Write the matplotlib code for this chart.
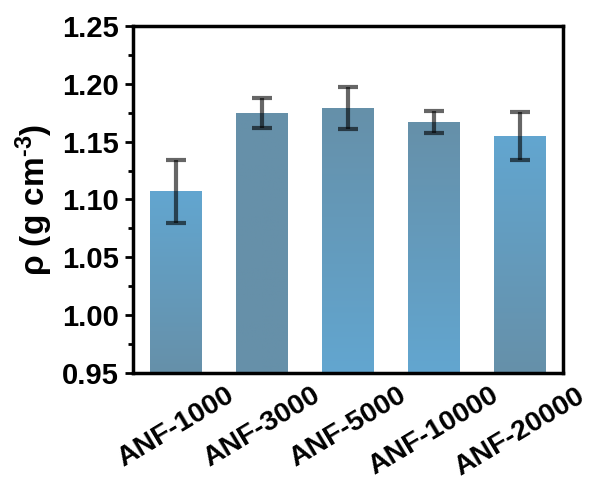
import numpy as np
import matplotlib
matplotlib.use("Agg")
import matplotlib.pyplot as plt
from matplotlib.colors import LinearSegmentedColormap
from matplotlib.ticker import MultipleLocator

samples = ["ANF-1000", "ANF-3000", "ANF-5000", "ANF-10000", "ANF-20000"]
density = [1.107, 1.175, 1.179, 1.167, 1.155]
density_err = [0.027, 0.013, 0.018, 0.0095, 0.0205]

plt.rcParams['font.family'] = ['Liberation Sans', 'DejaVu Sans']
plt.rcParams['font.weight'] = 'bold'
plt.rcParams['mathtext.fontset'] = 'custom'
plt.rcParams['mathtext.rm'] = 'Liberation Sans:bold'
plt.rcParams['mathtext.bf'] = 'Liberation Sans:bold'
plt.rcParams['mathtext.default'] = 'bf'

light = "#62a6d0"
dark = "#6690a9"
# top colour, bottom colour for each bar's gradient
shades = [(light, dark), (dark, dark), (dark, light), (dark, light), (light, dark)]

fig = plt.figure(figsize=(5.9, 4.86), dpi=100)
ax = fig.add_axes([133/590, 1 - 373/486, 430/590, 347/486])

x = np.arange(len(samples))
bars = ax.bar(x, density, width=0.6, color="none", edgecolor="none", zorder=2)
for b, (top, bot) in zip(bars, shades):
    cmap = LinearSegmentedColormap.from_list("g", [bot, top])
    grad = np.linspace(0, 1, 256).reshape(-1, 1)
    x0, w = b.get_x(), b.get_width()
    im = ax.imshow(grad, cmap=cmap, origin="lower", aspect="auto",
                   extent=[x0, x0 + w, 0.95, b.get_height()], zorder=2)
    im.set_clip_path(b)

ax.errorbar(x, density, yerr=density_err, fmt="none", ecolor="black", alpha=0.6,
            elinewidth=3, capsize=7, capthick=3, zorder=3)

ax.set_xlim(-0.5, 4.5)
ax.set_ylim(0.95, 1.25)
ax.yaxis.set_major_locator(MultipleLocator(0.05))
ax.yaxis.set_minor_locator(MultipleLocator(0.025))
ax.set_yticklabels([f"{v:.2f}" for v in ax.get_yticks()])
ax.set_xticks(x)
ax.set_xticklabels(samples, rotation=31, ha="center")
ax.tick_params(axis="x", length=0, labelsize=20.5, pad=7)
ax.tick_params(axis="y", which="major", length=6, width=2, labelsize=21, direction="out", pad=4)
ax.tick_params(axis="y", which="minor", length=3.5, width=2, direction="out")
for lbl in ax.get_xticklabels() + ax.get_yticklabels():
    lbl.set_fontweight("bold")
for s in ax.spines.values():
    s.set_linewidth(2.5)

ax.set_ylabel(r"ρ (g cm$^{\text{-}3}$)", fontsize=24, fontweight="bold", labelpad=5)

fig.savefig("out.png", dpi=100)
